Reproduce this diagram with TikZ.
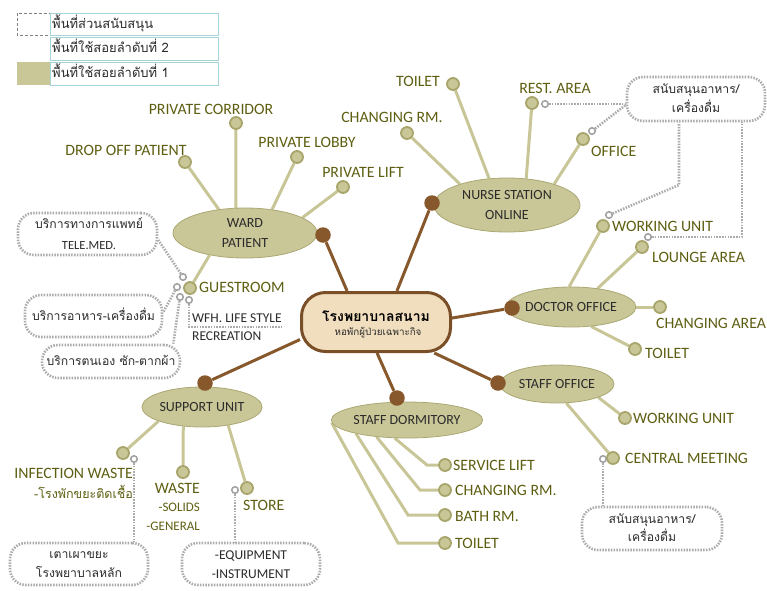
\documentclass[tikz,border=0pt]{standalone}
\usepackage{fontspec}
\setmainfont{Carlito}
\newfontfamily\thai[Script=Thai]{Loma}
\usetikzlibrary{shapes.geometric,backgrounds}
\definecolor{olivefill}{HTML}{C9C698}
\definecolor{olivedraw}{HTML}{ABA874}
\definecolor{linec}{HTML}{C8C697}
\definecolor{dotdraw}{HTML}{A8A56A}
\definecolor{labelc}{HTML}{5E5E12}
\definecolor{brownc}{HTML}{87582C}
\definecolor{centerfill}{HTML}{F1DEBF}
\definecolor{centerdraw}{HTML}{7A4E26}
\definecolor{grayc}{HTML}{ABABAB}
\definecolor{ringc}{HTML}{A3A3A3}
\definecolor{tealc}{HTML}{A6D5D8}
\definecolor{textc}{HTML}{2B2B2B}
\begin{document}
\begin{tikzpicture}[x=1pt,y=-1pt,
  ell/.style={ellipse, fill=olivefill, draw=olivedraw, line width=0.8pt, inner sep=0pt, align=center, font=\fontsize{14}{20}\selectfont, text=textc},
  leaf/.style={circle, fill=olivefill, draw=dotdraw, line width=1.8pt, minimum size=12pt, inner sep=0pt},
  bdot/.style={circle, fill=brownc, minimum size=15.5pt, inner sep=0pt},
  ring/.style={circle, fill=white, draw=ringc, line width=1.6pt, minimum size=6.5pt, inner sep=0pt},
  conn/.style={draw=linec, line width=3pt},
  bconn/.style={draw=brownc, line width=3pt},
  gdots/.style={draw=grayc, line width=2.6pt, dash pattern=on 1.5pt off 1.3pt},
  sbox/.style={rectangle, rounded corners=16pt, gdots, fill=white, inner sep=0pt},
  lbl/.style={text=labelc, font=\fontsize{15.8}{17}\selectfont, inner sep=0pt},
  slbl/.style={text=labelc, font=\fontsize{13}{15}\selectfont, inner sep=0pt},
  thtxt/.style={text=textc, font=\thai\fontsize{12.2}{15}\selectfont, inner sep=0pt, anchor=base},
  latxt/.style={text=textc, font=\fontsize{13.5}{15}\selectfont, inner sep=0pt, anchor=base},
  legtxt/.style={text=textc, font=\thai\fontsize{13}{15}\selectfont, inner sep=0pt, anchor=base west},
  ]
\useasboundingbox (0,0) rectangle (767,590);
% ---------- legend ----------
\draw[draw=gray, dash pattern=on 3pt off 2pt, line width=1pt] (17,13) rectangle (50,35);
\fill[olivefill] (17,62) rectangle (50,85);
\draw[draw=tealc, line width=1pt] (50,13) rectangle (218,35);
\draw[draw=tealc, line width=1pt] (50,37) rectangle (218,60);
\draw[draw=tealc, line width=1pt] (50,62) rectangle (218,85);
\node[legtxt] (leg1) at (52,28) {พื้นที่ส่วนสนับสนุน};
\node[legtxt] (leg2) at (52,52.5) {พื้นที่ใช้สอยลำดับที่ 2};
\node[legtxt] (leg3) at (52,77.5) {พื้นที่ใช้สอยลำดับที่ 1};
% ---------- center ----------
\node[rectangle, rounded corners=24pt, fill=centerfill, draw=centerdraw, line width=3pt, minimum width=149pt, minimum height=59pt] (hosp) at (376,322) {};
\node[text=black, font=\thai\bfseries\fontsize{14}{18}\selectfont, inner sep=0pt, anchor=base] (hosp1) at (376,321) {โรงพยาบาลสนาม};
\node[text=textc, font=\thai\fontsize{9.8}{13}\selectfont, inner sep=0pt, anchor=base] (hosp2) at (378,335.5) {หอพักผู้ป่วยเฉพาะกิจ};
% ---------- ellipses ----------
\node[ell, minimum width=144pt, minimum height=50pt] (ward) at (245,233) {WARD\\PATIENT};
\node[ell, minimum width=146pt, minimum height=54pt] (nurse) at (507,205) {NURSE STATION\\ONLINE};
\node[ell, minimum width=114pt, minimum height=40pt] (doc) at (571,307) {DOCTOR OFFICE};
\node[ell, minimum width=114pt, minimum height=38pt] (soff) at (557,384) {STAFF OFFICE};
\node[ell, minimum width=130pt, minimum height=36pt] (dorm) at (407,420) {STAFF DORMITORY};
\node[ell, minimum width=116pt, minimum height=40pt] (supp) at (202,407) {SUPPORT UNIT};
% ---------- brown dots ----------
\node[bdot] (bw) at (323,235) {};
\node[bdot] (bn) at (432,203) {};
\node[bdot] (bd) at (512,308) {};
\node[bdot] (bs) at (498,383) {};
\node[bdot] (bm) at (397,398) {};
\node[bdot] (bu) at (205,383) {};
% ---------- leaf dots ----------
\node[leaf] (pc) at (236,123) {};
\node[leaf] (dop) at (185,162) {};
\node[leaf] (pl) at (297,157) {};
\node[leaf] (plift) at (343,187) {};
\node[leaf] (gr) at (190,288) {};
\node[leaf] (nt) at (453,84) {};
\node[leaf] (ncr) at (407,133) {};
\node[leaf] (nra) at (532,103) {};
\node[leaf] (nof) at (583,139) {};
\node[leaf] (dwu) at (603,226) {};
\node[leaf] (dla) at (642,247) {};
\node[leaf] (dca) at (660,307) {};
\node[leaf] (dto) at (635,349) {};
\node[leaf] (swu) at (625,418) {};
\node[leaf] (scm) at (613,458) {};
\node[leaf] (sl) at (445,465) {};
\node[leaf] (dcr) at (445,490) {};
\node[leaf] (dbr) at (445,515) {};
\node[leaf] (dtt) at (445,543) {};
\node[leaf] (iw) at (123,453) {};
\node[leaf] (ws) at (183,472) {};
\node[leaf] (st) at (247,488) {};
% ---------- rings ----------
\node[ring] (g1) at (183,277) {};
\node[ring] (g2) at (177,287) {};
\node[ring] (g3) at (180,297) {};
\node[ring] (g4) at (189,300) {};
\node[ring] (irg) at (134,459) {};
\node[ring] (strg) at (235,490) {};
\node[ring] (cmr) at (603,459) {};
\node[ring] (rar) at (545,104) {};
\node[ring] (ofr) at (592,131) {};
\node[ring] (dwr) at (609,215) {};
\node[ring] (lar) at (648,237) {};
% ---------- dotted boxes ----------
\node[sbox, minimum width=139pt, minimum height=42pt] (tele) at (87.5,234) {};
\node[sbox, minimum width=137pt, minimum height=42pt] (food) at (93.5,316) {};
\node[sbox, minimum width=138pt, minimum height=33pt] (self) at (111,361.5) {};
\node[sbox, minimum width=138pt, minimum height=42pt] (furn) at (79,564) {};
\node[sbox, minimum width=138pt, minimum height=42pt] (equip) at (251,564) {};
\node[sbox, minimum width=140pt, minimum height=43pt] (cbox) at (652,528.5) {};
\node[sbox, minimum width=138pt, minimum height=44pt] (tbox) at (696,99) {};
\node[thtxt] (tele1) at (89,228.5) {บริการทางการแพทย์};
\node[latxt, font=\fontsize{12.5}{15}\selectfont] (tele2) at (89,249.5) {TELE.MED.};
\node[thtxt] (food1) at (93.5,320.5) {บริการอาหาร-เครื่องดื่ม};
\node[thtxt] (self1) at (111,365.5) {บริการตนเอง ซัก-ตากผ้า};
\node[thtxt] (furn1) at (79,558.5) {เตาเผาขยะ};
\node[thtxt] (furn2) at (79,577) {โรงพยาบาลหลัก};
\node[latxt] (equip1) at (251,559.5) {-EQUIPMENT};
\node[latxt] (equip2) at (251,578.5) {-INSTRUMENT};
\node[thtxt] (cbox1) at (652,523.5) {สนับสนุนอาหาร/};
\node[thtxt] (cbox2) at (652,541.5) {เครื่องดื่ม};
\node[thtxt] (tbox1) at (696,93.5) {สนับสนุนอาหาร/};
\node[thtxt] (tbox2) at (696,112) {เครื่องดื่ม};
% ---------- labels ----------
\node[lbl, anchor=base] (Lpc) at (211,114) {PRIVATE CORRIDOR};
\node[lbl, anchor=base] (Ldop) at (126,155) {DROP OFF PATIENT};
\node[lbl, anchor=base] (Lpl) at (307,147) {PRIVATE LOBBY};
\node[lbl, anchor=base] (Lplift) at (363,177) {PRIVATE LIFT};
\node[lbl, anchor=base west] (Lgr) at (199,292) {GUESTROOM};
\node[latxt, anchor=base west] (Lwfh) at (192,322) {WFH. LIFE STYLE};
\node[latxt, anchor=base west] (Lrec) at (192,340) {RECREATION};
\node[lbl, anchor=base east] (Lnt) at (440,86) {TOILET};
\node[lbl, anchor=base] (Lncr) at (392,122) {CHANGING RM.};
\node[lbl, anchor=base] (Lnra) at (555,93) {REST. AREA};
\node[lbl, anchor=base west] (Lnof) at (591,156) {OFFICE};
\node[lbl, anchor=base west] (Ldwu) at (612,231) {WORKING UNIT};
\node[lbl, anchor=base west] (Ldla) at (652,262) {LOUNGE AREA};
\node[lbl, anchor=base west] (Ldca) at (656,328) {CHANGING AREA};
\node[lbl, anchor=base west] (Ldto) at (645,358) {TOILET};
\node[lbl, anchor=base west] (Lswu) at (633,423) {WORKING UNIT};
\node[lbl, anchor=base west] (Lscm) at (625,463) {CENTRAL MEETING};
\node[lbl, anchor=base west] (Lsl) at (453,470) {SERVICE LIFT};
\node[lbl, anchor=base west] (Ldcr) at (455,495) {CHANGING RM.};
\node[lbl, anchor=base west] (Ldbr) at (455,521) {BATH RM.};
\node[lbl, anchor=base west] (Ldtt) at (455,548) {TOILET};
\node[lbl, anchor=base east] (Liw) at (133,478) {INFECTION WASTE};
\node[text=labelc, font=\thai\fontsize{12.5}{15}\selectfont, inner sep=0pt, anchor=base east] (Liw2) at (133,498) {-โรงพักขยะติดเชื้อ};
\node[lbl, anchor=base east] (Lws) at (200,493) {WASTE};
\node[slbl, anchor=base east] (Lws2) at (200,511) {-SOLIDS};
\node[slbl, anchor=base east] (Lws3) at (200,530) {-GENERAL};
\node[lbl, anchor=base west] (Lst) at (243,510) {STORE};
% ---------- helper coordinates ----------
\coordinate (wfhend) at (282,327);
\coordinate (c1) at (679,185);
\coordinate (c2) at (742,237);
% ---------- connectors ----------
\begin{scope}[on background layer]
  % brown
  \draw[bconn] (bw) -- (hosp.133);
  \draw[bconn] (bn) -- (hosp.56);
  \draw[bconn] (bd) -- (hosp.3);
  \draw[bconn] (bs) -- (hosp.-28);
  \draw[bconn] (bm) -- (hosp.-88);
  \draw[bconn] (bu) -- (hosp.193);
  % ward
  \draw[conn] (ward.110) -- (pc);
  \draw[conn] (ward.138) -- (dop);
  \draw[conn] (ward.41) -- (pl);
  \draw[conn] (ward.15) -- (plift);
  \draw[conn] (ward.212) -- (gr);
  % nurse
  \draw[conn] (nurse.124) -- (nt);
  \draw[conn] (nurse.156) -- (ncr);
  \draw[conn] (nurse.54) -- (nra);
  \draw[conn] (nurse.24) -- (nof);
  % doctor
  \draw[conn] (doc.95) -- (dwu);
  \draw[conn] (doc.35) -- (dla);
  \draw[conn] (doc.0) -- (dca);
  \draw[conn] (doc.-44) -- (dto);
  % staff office
  \draw[conn] (soff.-18) -- (swu);
  \draw[conn] (soff.-64) -- (scm);
  % dormitory
  \draw[conn] (dorm.236) -- ([xshift=-18pt]sl.center) -- (sl);
  \draw[conn] (dorm.209) -- ([xshift=-25pt]dcr.center) -- (dcr);
  \draw[conn] (dorm.195) -- ([xshift=-37pt]dbr.center) -- (dbr);
  \draw[conn] (dorm.182) -- ([xshift=-47pt]dtt.center) -- (dtt);
  % support
  \draw[conn] (supp.198) -- (iw);
  \draw[conn] (supp.226) -- (ws);
  \draw[conn] (supp.325) -- (st);
  % dotted
  \draw[gdots] (g1) -- ([yshift=-6pt]tele.east);
  \draw[gdots] (g2) -- ([yshift=4pt]food.east);
  \draw[gdots] (g3) -- ([xshift=-8pt]self.north east);
  \draw[gdots] (g4) |- (wfhend);
  \draw[gdots] (irg) -- (irg |- furn.north);
  \draw[gdots] (strg) -- (strg |- equip.north);
  \draw[gdots] (cmr) -- (cmr |- cbox.north);
  \draw[gdots] (rar) -- (rar -| tbox.west);
  \draw[gdots] (ofr) -- ([yshift=-6pt]tbox.west);
  \draw[gdots] (dwr) -- (c1) -- (c1 |- tbox.south);
  \draw[gdots] (lar) -- (c2) -- (c2 |- tbox.south);
\end{scope}
\end{tikzpicture}
\end{document}
